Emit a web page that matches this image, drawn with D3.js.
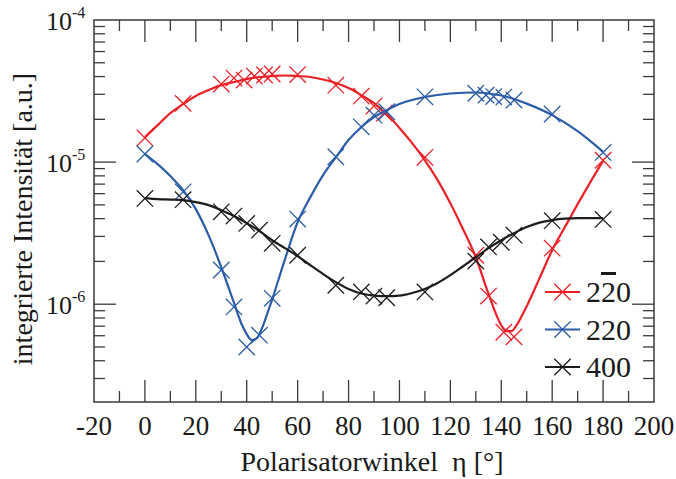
<!DOCTYPE html>
<html>
<head>
<meta charset="utf-8">
<script src="https://cdn.jsdelivr.net/npm/d3@7"></script>
<style>
  html, body { margin: 0; padding: 0; background: #fff; }
</style>
</head>
<body>
<svg id="chart" width="676" height="479" font-family="'Liberation Serif', 'Times New Roman', Times, 'DejaVu Serif', serif" fill="#1a1a1a"></svg>
<script>
// Axis limits and tick values
const xDomain = [-20, 200];
const yDomain = [2.05e-7, 1e-4];
const xMajorTicks = [-20, 0, 20, 40, 60, 80, 100, 120, 140, 160, 180, 200];
const xMinorTicks = [-10, 10, 30, 50, 70, 90, 110, 130, 150, 170, 190];
const yMajorTicks = [1e-6, 1e-5, 1e-4];
const yMajorExponents = ["-6", "-5", "-4"];
const yMinorTicks = [2e-7, 3e-7, 4e-7, 5e-7, 6e-7, 7e-7, 8e-7, 9e-7,
                     2e-6, 3e-6, 4e-6, 5e-6, 6e-6, 7e-6, 8e-6, 9e-6,
                     2e-5, 3e-5, 4e-5, 5e-5, 6e-5, 7e-5, 8e-5, 9e-5];

// Reflections
const seriesNames = ["2\u03052\u03050", "220", "400"];
const seriesColors = ["#ec2027", "#2b5ca8", "#1c1c1c"];

// Measured integrated intensities (a.u.) vs. polariser angle (deg)
const redAngles  = [0, 15, 30, 35, 39, 43, 47, 50, 60, 75, 85, 90, 94, 110, 130, 135, 141, 145, 160, 180];
const redValues  = [1.48e-5, 2.59e-5, 3.54e-5, 3.90e-5, 3.78e-5, 4.03e-5, 4.10e-5, 4.17e-5, 4.13e-5, 3.48e-5,
                    2.91e-5, 2.48e-5, 2.21e-5, 1.08e-5, 2.21e-6, 1.14e-6, 6.35e-7, 5.89e-7, 2.48e-6, 1.03e-5];
const blueAngles = [0, 15, 30, 35, 40, 45, 50, 60, 75, 85, 90, 95, 110, 130, 134, 137, 141, 145, 160, 180];
const blueValues = [1.14e-5, 6.18e-6, 1.74e-6, 9.57e-7, 5.0e-7, 6.05e-7, 1.10e-6, 3.97e-6, 1.09e-5, 1.77e-5,
                    2.14e-5, 2.26e-5, 2.88e-5, 3.05e-5, 2.96e-5, 2.89e-5, 2.87e-5, 2.73e-5, 2.18e-5, 1.17e-5];
const blackAngles = [0, 15, 30, 35, 40, 45, 50, 60, 75, 85, 90, 95, 110, 130, 135, 140, 145, 160, 180];
const blackValues = [5.55e-6, 5.44e-6, 4.47e-6, 4.17e-6, 3.70e-6, 3.32e-6, 2.68e-6, 2.21e-6, 1.36e-6, 1.22e-6,
                     1.14e-6, 1.11e-6, 1.22e-6, 2.01e-6, 2.53e-6, 2.73e-6, 3.06e-6, 3.87e-6, 3.95e-6];

// Fitted curves
const redFitAngles = [0, 5, 10, 15, 20, 25, 30, 35, 40, 45, 50, 55, 60, 65, 70, 75, 80, 85, 90, 95, 100, 105, 110,
                      115, 120, 125, 130, 135, 140, 142, 144, 146, 148, 150, 155, 160, 165, 170, 175, 180];
const redFitValues = [1.50e-5, 1.82e-5, 2.21e-5, 2.56e-5, 2.92e-5, 3.21e-5, 3.48e-5, 3.66e-5, 3.84e-5, 3.97e-5,
                      4.03e-5, 4.07e-5, 4.03e-5, 3.97e-5, 3.81e-5, 3.60e-5, 3.32e-5, 2.96e-5, 2.60e-5, 2.18e-5,
                      1.74e-5, 1.36e-5, 1.03e-5, 7.47e-6, 5.14e-6, 3.37e-6, 2.14e-6, 1.18e-6, 7.11e-7, 6.46e-7,
                      6.46e-7, 7.11e-7, 8.23e-7, 9.68e-7, 1.52e-6, 2.40e-6, 3.49e-6, 5.06e-6, 7.23e-6, 1.02e-5];
const blueFitAngles = [0, 5, 10, 15, 20, 25, 30, 35, 38, 40, 42, 44, 46, 48, 50, 55, 60, 65, 70, 75, 80, 85, 90,
                       95, 100, 110, 120, 130, 135, 140, 145, 150, 160, 170, 180];
const blueFitValues = [1.14e-5, 9.68e-6, 7.97e-6, 6.35e-6, 4.67e-6, 3.06e-6, 1.82e-6, 1.02e-6, 7.23e-7, 6.15e-7,
                       5.58e-7, 5.76e-7, 6.78e-7, 8.50e-7, 1.08e-6, 2.07e-6, 3.78e-6, 5.67e-6, 8.10e-6, 1.08e-5,
                       1.43e-5, 1.76e-5, 2.07e-5, 2.32e-5, 2.56e-5, 2.87e-5, 3.04e-5, 3.09e-5, 3.04e-5, 2.94e-5,
                       2.78e-5, 2.58e-5, 2.14e-5, 1.65e-5, 1.18e-5];
const blackFitAngles = [0, 5, 10, 15, 20, 25, 30, 35, 40, 45, 50, 55, 60, 65, 70, 75, 80, 85, 90, 95, 100, 105,
                        110, 115, 120, 125, 130, 135, 140, 145, 150, 155, 160, 165, 170, 175, 180];
const blackFitValues = [5.58e-6, 5.49e-6, 5.45e-6, 5.40e-6, 5.23e-6, 4.98e-6, 4.59e-6, 4.17e-6, 3.72e-6, 3.27e-6,
                        2.82e-6, 2.48e-6, 2.18e-6, 1.88e-6, 1.63e-6, 1.43e-6, 1.28e-6, 1.19e-6, 1.15e-6, 1.14e-6,
                        1.15e-6, 1.20e-6, 1.28e-6, 1.41e-6, 1.60e-6, 1.85e-6, 2.14e-6, 2.48e-6, 2.82e-6, 3.16e-6,
                        3.49e-6, 3.75e-6, 3.91e-6, 4.00e-6, 4.03e-6, 4.03e-6, 4.03e-6];

const series = [
  { angles: redAngles,   values: redValues,   fitA: redFitAngles,   fitV: redFitValues },
  { angles: blueAngles,  values: blueValues,  fitA: blueFitAngles,  fitV: blueFitValues },
  { angles: blackAngles, values: blackValues, fitA: blackFitAngles, fitV: blackFitValues }
];

const plot = { left: 94, right: 654, top: 20, bottom: 402 };
const svg = d3.select("#chart");

const x = d3.scaleLinear().domain(xDomain).range([plot.left, plot.right]);
const y = d3.scaleLog().domain(yDomain).range([plot.bottom, plot.top]);

const axisColor = "#3a3a3a";
const majorLen = 22, minorLen = 11;

// Ticks on all four sides, pointing inwards
const ticks = svg.append("g").attr("stroke", axisColor).attr("stroke-width", 1.3);
function vTicks(vals, len) {
  vals.filter(v => v > xDomain[0] && v < xDomain[1]).forEach(v => {
    ticks.append("line").attr("x1", x(v)).attr("x2", x(v)).attr("y1", plot.bottom).attr("y2", plot.bottom - len);
    ticks.append("line").attr("x1", x(v)).attr("x2", x(v)).attr("y1", plot.top).attr("y2", plot.top + len);
  });
}
function hTicks(vals, len) {
  vals.filter(v => v > yDomain[0] * 1.001 && v < yDomain[1] * 0.999).forEach(v => {
    ticks.append("line").attr("y1", y(v)).attr("y2", y(v)).attr("x1", plot.left).attr("x2", plot.left + len);
    ticks.append("line").attr("y1", y(v)).attr("y2", y(v)).attr("x1", plot.right).attr("x2", plot.right - len);
  });
}
vTicks(xMajorTicks, majorLen);
vTicks(xMinorTicks, minorLen);
hTicks(yMajorTicks, majorLen);
hTicks(yMinorTicks, minorLen);

// Frame
svg.append("rect")
  .attr("x", plot.left).attr("y", plot.top)
  .attr("width", plot.right - plot.left).attr("height", plot.bottom - plot.top)
  .attr("fill", "none").attr("stroke", axisColor).attr("stroke-width", 1.5);

// X tick labels
svg.append("g").selectAll("text").data(xMajorTicks).join("text")
  .attr("x", d => x(d)).attr("y", 435)
  .attr("text-anchor", "middle").attr("font-size", 27)
  .text(d => d);

// Y tick labels as powers of ten
svg.append("g").selectAll("text").data(yMajorTicks).join("text")
  .attr("x", 72).attr("y", d => y(d) + 10)
  .attr("text-anchor", "end").attr("font-size", 26)
  .text("10");
svg.append("g").selectAll("text").data(yMajorTicks).join("text")
  .attr("x", 72).attr("y", (d) => y(d) - 2)
  .attr("font-size", 16)
  .text((d, i) => yMajorExponents[i]);

// Axis titles
svg.append("text")
  .attr("x", (plot.left + plot.right) / 2 - 2).attr("y", 471)
  .attr("text-anchor", "middle").attr("font-size", 28)
  .attr("xml:space", "preserve")
  .text("Polarisatorwinkel  \u03b7 [\u00b0]");
svg.append("text")
  .attr("transform", `translate(32, ${(plot.top + plot.bottom) / 2 + 8}) rotate(-90)`)
  .attr("text-anchor", "middle").attr("font-size", 28)
  .text("integrierte Intensit\u00e4t [a.u.]");

// Fit curves and measured points
const line = d3.line().curve(d3.curveMonotoneX).x(d => x(d[0])).y(d => y(d[1]));
const cross = 8.2;
function drawX(g, cx, cy, color) {
  g.append("path")
    .attr("d", `M${cx - cross},${cy - cross}L${cx + cross},${cy + cross}M${cx - cross},${cy + cross}L${cx + cross},${cy - cross}`)
    .attr("stroke", color).attr("stroke-width", 1.3).attr("fill", "none");
}
series.forEach((s, i) => {
  const g = svg.append("g");
  g.append("path")
    .datum(s.fitA.map((a, k) => [a, s.fitV[k]]))
    .attr("d", line)
    .attr("fill", "none").attr("stroke", seriesColors[i]).attr("stroke-width", 2.2);
  s.angles.forEach((a, k) => drawX(g, x(a), y(s.values[k]), seriesColors[i]));
});

// Legend
const legendY = [292, 329.5, 367];
const lg = svg.append("g");
seriesNames.forEach((name, i) => {
  lg.append("line").attr("x1", 545).attr("x2", 580).attr("y1", legendY[i]).attr("y2", legendY[i])
    .attr("stroke", seriesColors[i]).attr("stroke-width", 2.2);
  drawX(lg, 562.5, legendY[i], seriesColors[i]);
});
// 2-20 label with an overbar on the middle digit
const t0 = lg.append("text").attr("x", 586).attr("y", legendY[0] + 10).attr("font-size", 30);
t0.append("tspan").text("2");
t0.append("tspan").attr("text-decoration", "overline").text("2");
t0.append("tspan").text("0");
lg.append("text").attr("x", 586).attr("y", legendY[1] + 10).attr("font-size", 30).text(seriesNames[1]);
lg.append("text").attr("x", 586).attr("y", legendY[2] + 10).attr("font-size", 30).text(seriesNames[2]);
</script>
</body>
</html>
